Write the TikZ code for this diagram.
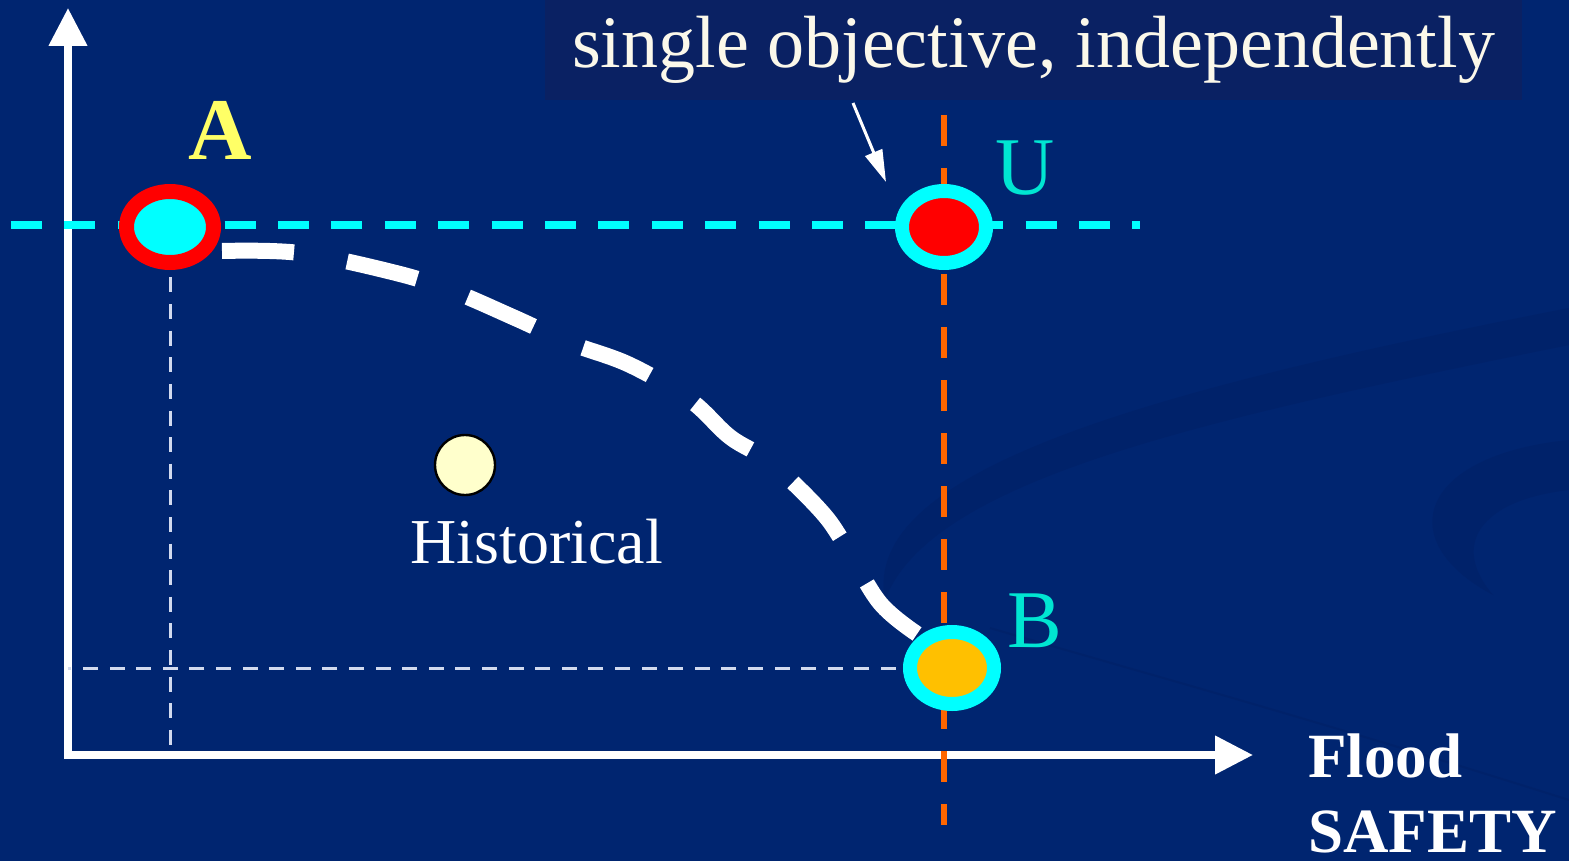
\documentclass[tikz,border=0pt]{standalone}
\usepackage{fontspec}
\setmainfont{Liberation Serif}
\usepackage{xcolor}
\definecolor{SlideBlue}{HTML}{002570}
\definecolor{SlideSwirl}{HTML}{00226A}
\definecolor{TitleBox}{HTML}{0A2163}
\definecolor{TitleText}{HTML}{FBF8EA}
\definecolor{PtCyan}{HTML}{00FFFF}
\definecolor{PtRed}{HTML}{FF0000}
\definecolor{PtGold}{HTML}{FFC000}
\definecolor{LblYellow}{HTML}{FFFF66}
\definecolor{LblTeal}{HTML}{00E6D2}
\definecolor{CutOrange}{HTML}{FF6600}
\definecolor{HistFill}{HTML}{FFFFCC}
\definecolor{GuideGrey}{HTML}{D2DAEE}
\usepackage{tikz}
\usetikzlibrary{arrows.meta, shapes.geometric, positioning}

\begin{document}
\begin{tikzpicture}[x=0.5pt, y=-0.5pt]
  \tikzset{
    axisline/.style={white, line width=3.75pt, line cap=rect, -{Triangle[length=19pt, width=18.5pt]}},
    guide/.style={GuideGrey, line width=1.5pt, dash pattern=on 7.5pt off 5.8pt},
    idealline/.style={PtCyan, line width=4pt, dash pattern=on 15.5pt off 11.2pt},
    cutline/.style={CutOrange, line width=3pt, dash pattern=on 15.5pt off 11pt},
    pareto/.style={white, line width=8pt, dash pattern=on 36pt off 27pt},
    pointer/.style={white, line width=1.5pt, -{Triangle[length=16pt, width=9pt]}},
    optpt/.style={ellipse, inner sep=0pt, minimum width=42pt, minimum height=36pt, line width=7pt},
    histpt/.style={circle, inner sep=0pt, minimum size=30pt, fill=HistFill, draw=black, line width=1.2pt},
    ptlabel/.style={anchor=base, inner sep=0pt, font=\fontsize{41}{41}\selectfont},
    axlabel/.style={anchor=base west, inner sep=0pt, white, font=\bfseries\fontsize{31.5}{31.5}\selectfont},
    titlebox/.style={fill=TitleBox, text=TitleText, inner sep=0pt, minimum width=488.5pt,
      minimum height=50pt, font=\fontsize{37}{37}\selectfont},
  }
  % slide background
  \useasboundingbox (0,0) rectangle (1569,861);
  \fill[SlideBlue] (0,0) rectangle (1569,861);

  % template swirl, bottom right
  \fill[SlideSwirl] (885,600) .. controls (860,470) and (1150,390) .. (1569,308)
    -- (1569,345) .. controls (1200,420) and (930,480) .. (885,600) -- cycle;
  \fill[SlideSwirl] (1493,595) .. controls (1390,540) and (1420,455) .. (1569,440)
    -- (1569,490) .. controls (1480,500) and (1450,545) .. (1493,595) -- cycle;
  \draw[SlideSwirl, line width=1pt] (990,628) .. controls (1150,675) and (1300,715) .. (1569,800);

  % title
  \node[titlebox] (title) at (1033.5,50) {single objective, independently};

  % axes
  \coordinate (origin) at (68,755);
  \coordinate (ytip) at (68,8);
  \coordinate (xtip) at (1253,755);
  \draw[axisline] (origin) -- (ytip);
  \draw[axisline] (origin) -- (xtip);
  \node[axlabel] (xlblA) at (1308,777) {Flood};
  \node[axlabel] (xlblB) at (1308,852) {SAFETY};

  % utopia levels
  \coordinate (idealL) at (11,225);
  \coordinate (idealR) at (1140,225);
  \draw[idealline] (idealL) -- (idealR);
  \coordinate (cutT) at (944,115);
  \coordinate (cutB) at (944,825);
  \draw[cutline] (cutT) -- (cutB);

  % single objective optima and utopia point
  \node[optpt, draw=PtRed, fill=PtCyan, minimum width=43.5pt, minimum height=35.5pt,
    line width=7.5pt] (ptA) at (170,227) {};
  \node[optpt, draw=PtCyan, fill=PtRed] (ptU) at (944,227) {};
  \node[optpt, draw=PtCyan, fill=PtGold] (ptB) at (952,668) {};

  \draw[guide, shorten <=3.75pt] (ptA) -- (ptA |- origin);
  \draw[guide, shorten <=3.5pt] (ptB) -- (origin |- ptB);

  \node[ptlabel, LblYellow, font=\bfseries\fontsize{44}{44}\selectfont] (lblA) at (220,160) {A};
  \node[ptlabel, LblTeal] (lblU) at (1025,195) {U};
  \node[ptlabel, LblTeal] (lblB) at (1035,647) {B};

  % pareto front
  \coordinate (pfStart) at (222,251);
  \draw[pareto] plot[smooth, tension=0.6] coordinates {
    (pfStart) (300,253) (392,272) (450,290) (515,318) (570,343) (630,365)
    (690,400) (730,437) (770,462) (820,510) (845,545) (880,603) (ptB.135)
  };

  % historical operation
  \node[histpt] (hist) at (465,465) {};
  \node[anchor=base west, inner sep=0pt, white, font=\fontsize{32}{32}\selectfont] (histlbl) at (410,563) {Historical};

  % pointer from the title
  \coordinate (ptrTail) at (853,103);
  \coordinate (ptrTip) at (886,182);
  \draw[pointer] (ptrTail) -- (ptrTip);
\end{tikzpicture}
\end{document}
